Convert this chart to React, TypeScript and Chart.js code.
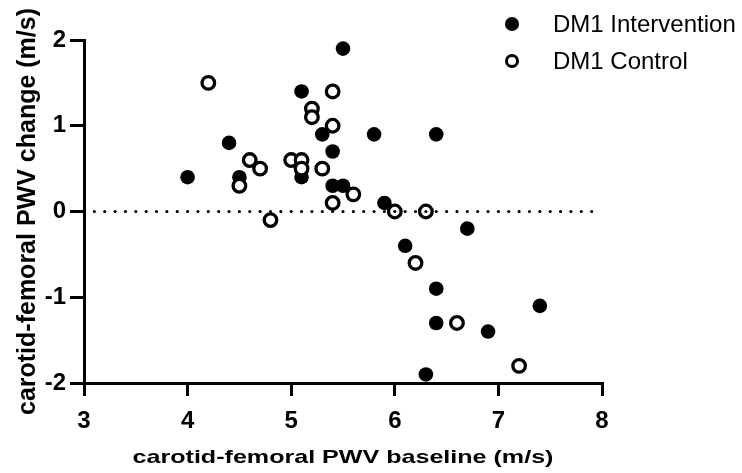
import React, { useEffect, useRef } from "react";
import { Chart, registerables } from "chart.js";

Chart.register(...registerables);

// ---- data ----
const seriesLabels = ["DM1 Intervention", "DM1 Control"];
const interventionX = [5.5, 5.1, 4.4, 4.0, 4.5, 5.3, 5.4, 5.1, 5.4, 5.5, 5.8, 6.4, 5.9, 6.7, 6.1, 6.4, 6.4, 6.9, 7.4, 6.3];
const interventionY = [1.9, 1.4, 0.8, 0.4, 0.4, 0.9, 0.7, 0.4, 0.3, 0.3, 0.9, 0.9, 0.1, -0.2, -0.4, -0.9, -1.3, -1.4, -1.1, -1.9];
const controlX = [4.2, 5.4, 5.2, 5.2, 5.4, 4.6, 4.7, 4.5, 5.0, 5.1, 5.1, 5.3, 5.6, 5.4, 4.8, 6.0, 6.3, 6.2, 6.6, 7.2];
const controlY = [1.5, 1.4, 1.2, 1.1, 1.0, 0.6, 0.5, 0.3, 0.6, 0.6, 0.5, 0.5, 0.2, 0.1, -0.1, 0.0, 0.0, -0.6, -1.3, -1.8];
const xTicks = [3, 4, 5, 6, 7, 8];
const yTicks = [-2, -1, 0, 1, 2];
const xTitle = "carotid-femoral PWV baseline (m/s)";
const yTitle = "carotid-femoral PWV change (m/s)";
const refLineY = 0;
const refLineXRange = [3.1, 7.9];
const refLineDotStep = 0.1;

const FONT = "'Liberation Sans', Arial, Helvetica, sans-serif";

Chart.defaults.font.family = FONT;
Chart.defaults.font.weight = "bold" as any;
Chart.defaults.font.size = 24;
Chart.defaults.color = "#000";

const overlayPlugin = {
  id: "overlay",
  afterDatasetsDraw(chart: any) {
    const ctx = chart.ctx;
    const xs = chart.scales.x;
    const ys = chart.scales.y;
    const x1 = xs.getPixelForValue(refLineXRange[0]);
    const x2 = xs.getPixelForValue(refLineXRange[1]);
    const gap = xs.getPixelForValue(refLineXRange[0] + refLineDotStep) - x1;
    const y0 = ys.getPixelForValue(refLineY);
    ctx.save();
    ctx.strokeStyle = "#000";
    ctx.lineWidth = 3.2;
    ctx.lineCap = "round";
    ctx.setLineDash([0.01, gap - 0.01]);
    ctx.beginPath();
    ctx.moveTo(x1, y0);
    ctx.lineTo(x2 + 0.5, y0);
    ctx.stroke();
    ctx.restore();
  },
  afterDraw(chart: any) {
    const ctx = chart.ctx;
    const area = chart.chartArea;
    ctx.save();
    ctx.fillStyle = "#000";
    // y title
    ctx.save();
    ctx.translate(35, (area.top + area.bottom) / 2);
    ctx.rotate(-Math.PI / 2);
    ctx.font = `bold 25px ${FONT}`;
    ctx.textAlign = "center";
    ctx.textBaseline = "alphabetic";
    ctx.fillText(yTitle, 0, 0);
    ctx.restore();
    // x title (wide lettering)
    ctx.save();
    ctx.translate((area.left + area.right) / 2, 463);
    ctx.scale(1.32, 1);
    ctx.font = `bold 19px ${FONT}`;
    ctx.textAlign = "center";
    ctx.textBaseline = "alphabetic";
    ctx.fillText(xTitle, 0, 0);
    ctx.restore();
    // legend
    const lx = 512;
    const rows = [24, 61];
    ctx.font = `24px ${FONT}`;
    ctx.textAlign = "left";
    ctx.textBaseline = "middle";
    ctx.beginPath();
    ctx.arc(lx, rows[0], 7, 0, Math.PI * 2);
    ctx.fillStyle = "#000";
    ctx.fill();
    ctx.fillText(seriesLabels[0], 553, rows[0] + 1);
    ctx.beginPath();
    ctx.arc(lx, rows[1], 5.5, 0, Math.PI * 2);
    ctx.fillStyle = "#fff";
    ctx.fill();
    ctx.lineWidth = 3;
    ctx.strokeStyle = "#000";
    ctx.stroke();
    ctx.fillStyle = "#000";
    ctx.fillText(seriesLabels[1], 553, rows[1] + 1);
    ctx.restore();
  },
};

export default function App() {
  const ref = useRef<HTMLCanvasElement | null>(null);
  useEffect(() => {
    if (!ref.current) return;
    const tickFont = { family: FONT, size: 24, weight: "bold" };
    const chart = new Chart(ref.current, {
      type: "scatter",
      data: {
        datasets: [
          {
            label: seriesLabels[0],
            data: interventionX.map((x, i) => ({ x, y: interventionY[i] })),
            pointRadius: 7.3,
            pointBackgroundColor: "#000",
            pointBorderColor: "#000",
            pointBorderWidth: 0,
            order: 2,
          },
          {
            label: seriesLabels[1],
            data: controlX.map((x, i) => ({ x, y: controlY[i] })),
            pointRadius: 6.3,
            pointBackgroundColor: "#fff",
            pointBorderColor: "#000",
            pointBorderWidth: 3.3,
            order: 1,
          },
        ],
      },
      options: {
        animation: false,
        responsive: true,
        maintainAspectRatio: false,
        events: [],
        layout: { padding: { top: 40, right: 140, left: 0, bottom: 0 } },
        plugins: { legend: { display: false }, tooltip: { enabled: false } },
        scales: {
          x: {
            type: "linear",
            min: 3,
            max: 8,
            afterBuildTicks: (s: any) => {
              s.ticks = xTicks.map((v) => ({ value: v }));
            },
            afterFit: (s: any) => {
              s.height = 90;
            },
            border: { display: true, color: "#000", width: 3 },
            grid: { drawOnChartArea: false, drawTicks: true, tickLength: 13, color: "#000", lineWidth: 3 },
            ticks: { color: "#000", font: tickFont as any, padding: 11, maxRotation: 0 },
            title: { display: false },
          },
          y: {
            type: "linear",
            min: -2,
            max: 2,
            afterBuildTicks: (s: any) => {
              s.ticks = yTicks.map((v) => ({ value: v }));
            },
            afterFit: (s: any) => {
              s.width = 84;
            },
            border: { display: true, color: "#000", width: 3 },
            grid: { drawOnChartArea: false, drawTicks: true, tickLength: 14, color: "#000", lineWidth: 3 },
            ticks: { color: "#000", font: tickFont as any, padding: 4 },
            title: { display: false },
          },
        },
      },
      plugins: [overlayPlugin],
    });
    return () => chart.destroy();
  }, []);
  return (
    <div style={{ position: "absolute", left: 0, top: 0, width: 742, height: 473 }}>
      <canvas ref={ref} />
    </div>
  );
}
